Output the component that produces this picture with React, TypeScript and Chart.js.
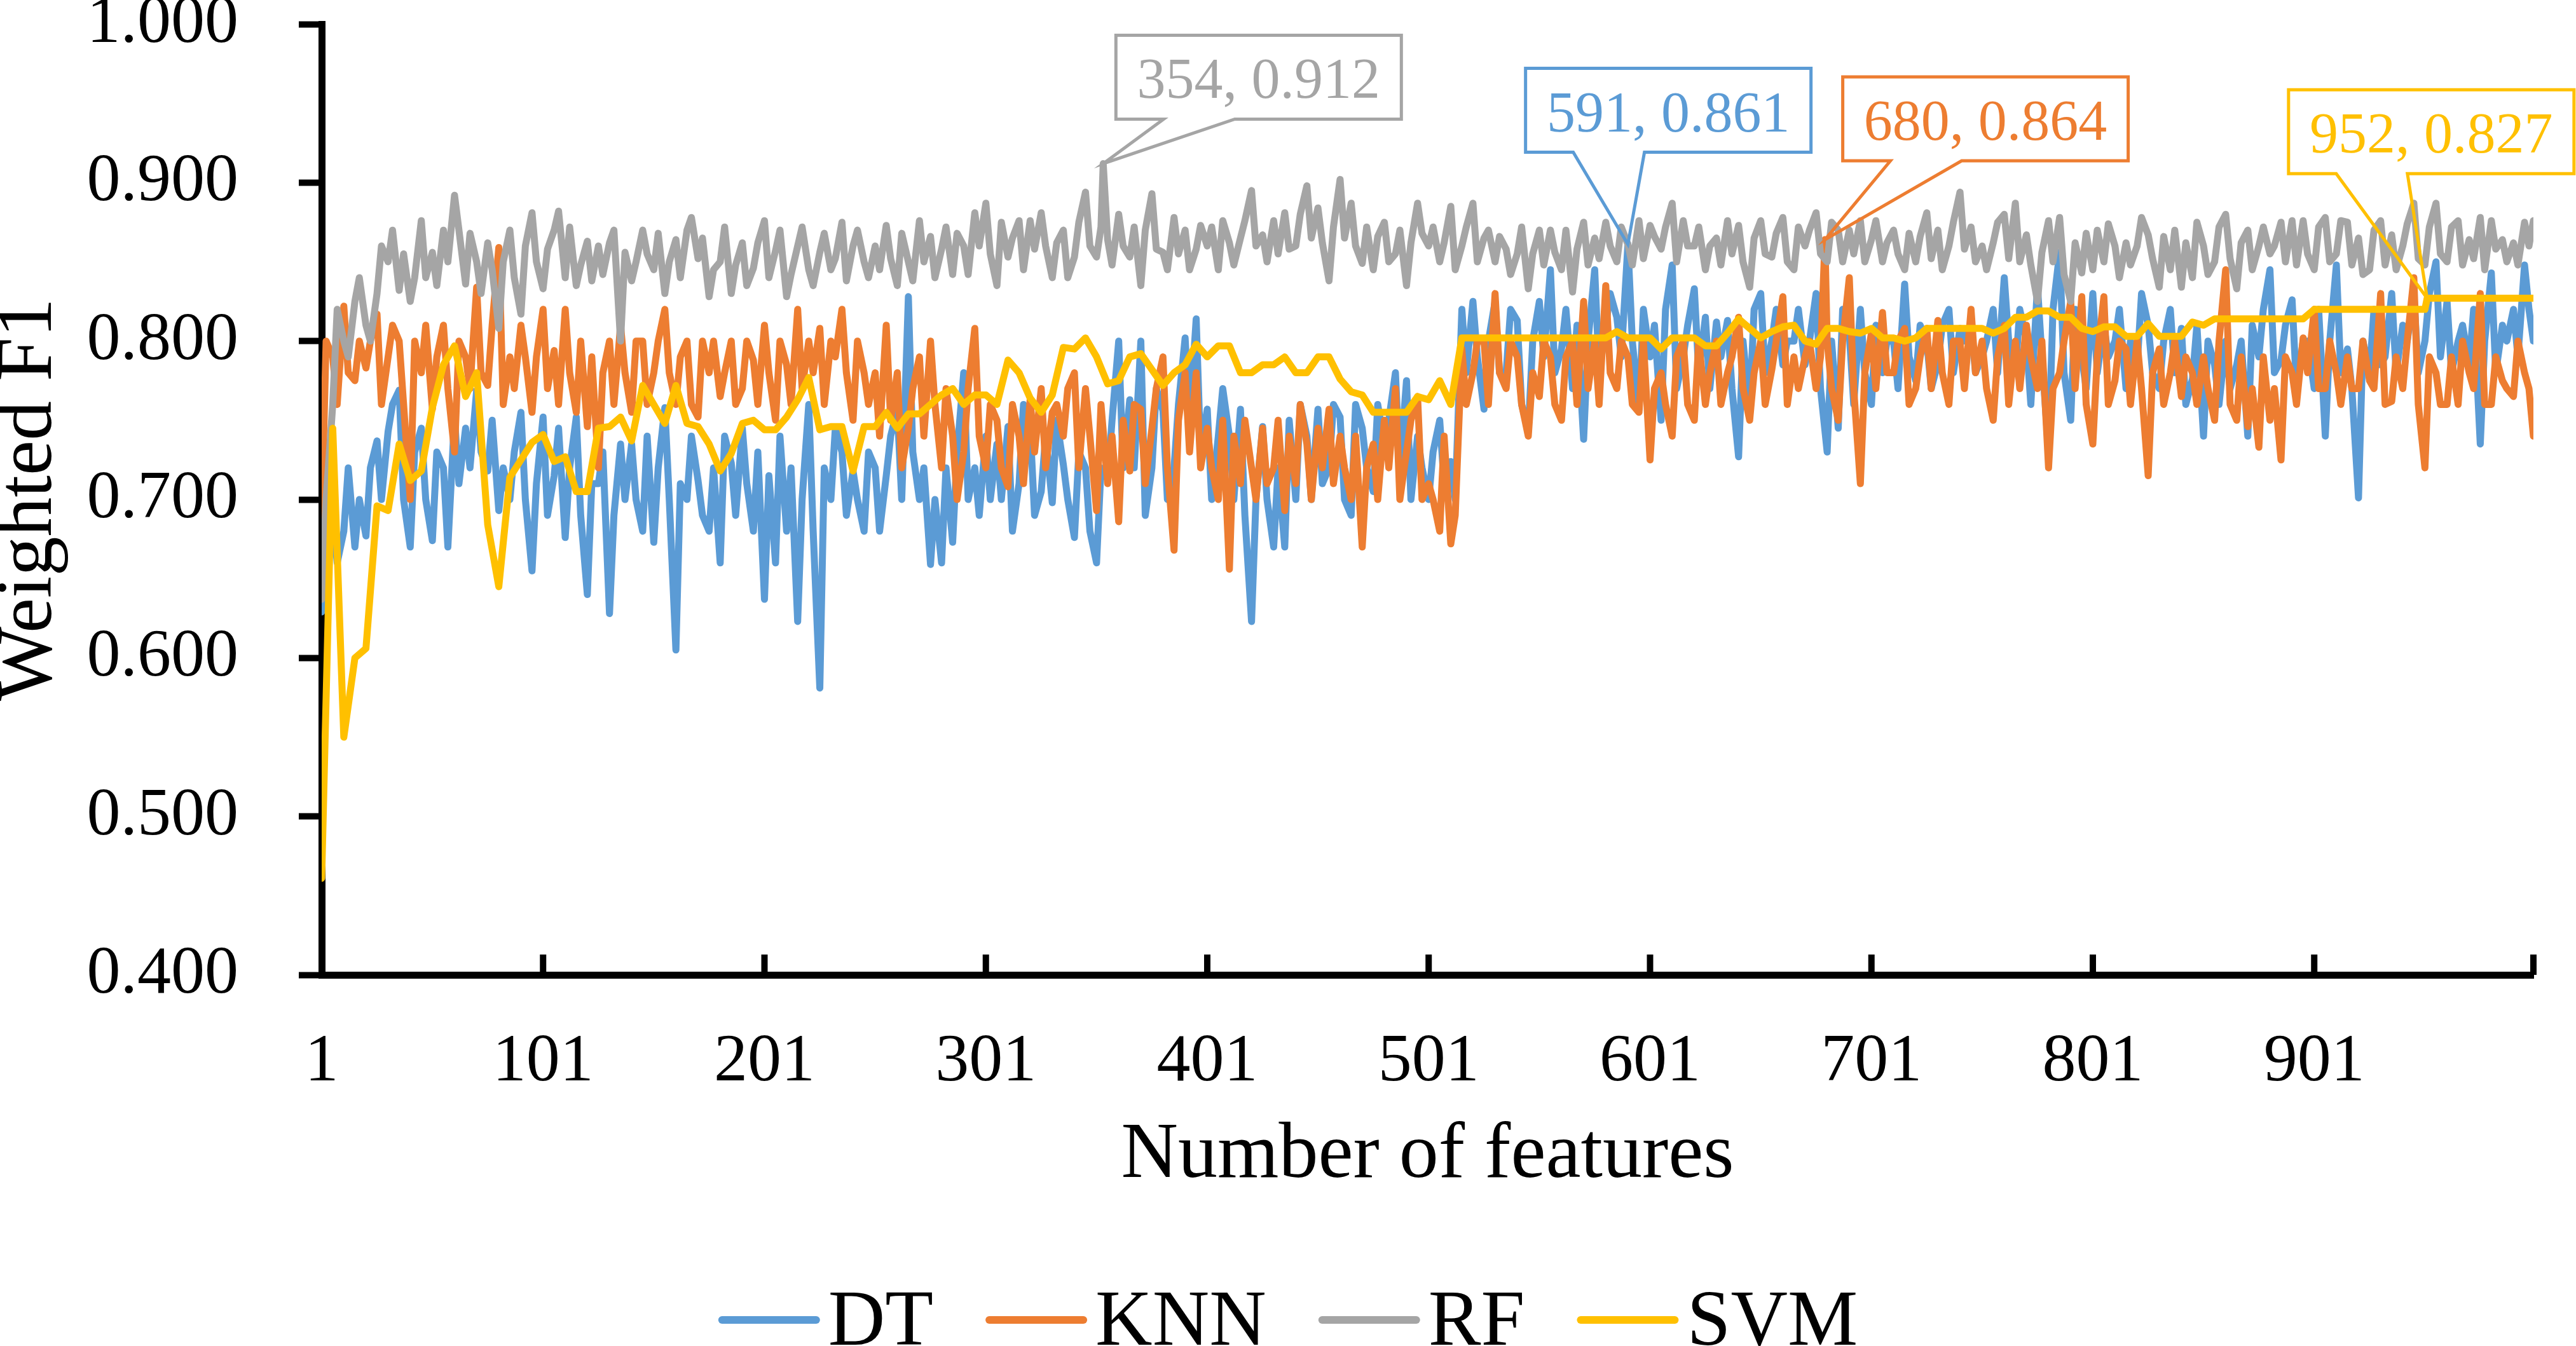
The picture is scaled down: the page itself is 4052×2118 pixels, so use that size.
import { useEffect, useRef } from 'react';
import { Chart, registerables } from 'chart.js';

Chart.register(...registerables);

const W = 4052;
const H = 2118;
const FONT = "'Liberation Serif', 'Times New Roman', serif";

// number of features: main samples every 5th (plus the last), in-between samples at 3, 8, 13, ...
const FEATURES = [...Array.from({ length: 200 }, (_, i) => 1 + 5 * i), 1000];
const MID_FEATURES = Array.from({ length: 200 }, (_, i) => 3 + 5 * i);
const X_TICKS = [1, 101, 201, 301, 401, 501, 601, 701, 801, 901];

const DT = [
  0.629, 0.69, 0.68, 0.67, 0.677, 0.737, 0.743, 0.769, 0.67, 0.745,
  0.674, 0.72, 0.752, 0.745, 0.769, 0.718, 0.693, 0.7, 0.755, 0.655,
  0.752, 0.715, 0.676, 0.752, 0.64, 0.71, 0.628, 0.735, 0.735, 0.68,
  0.673, 0.758, 0.605, 0.7, 0.712, 0.68, 0.66, 0.723, 0.745, 0.68,
  0.637, 0.66, 0.68, 0.623, 0.76, 0.581, 0.7, 0.73, 0.718, 0.68,
  0.72, 0.715, 0.757, 0.828, 0.7, 0.659, 0.66, 0.673, 0.78, 0.72,
  0.74, 0.735, 0.746, 0.71, 0.746, 0.705, 0.698, 0.722, 0.676, 0.72,
  0.66, 0.713, 0.8, 0.763, 0.8, 0.72, 0.756, 0.72, 0.802, 0.814,
  0.757, 0.74, 0.74, 0.757, 0.623, 0.746, 0.67, 0.67, 0.7, 0.74,
  0.757, 0.72, 0.752, 0.69, 0.745, 0.705, 0.735, 0.78, 0.775, 0.74,
  0.7, 0.75, 0.724, 0.82, 0.825, 0.757, 0.825, 0.78, 0.813, 0.743,
  0.825, 0.845, 0.795, 0.77, 0.738, 0.845, 0.81, 0.815, 0.861, 0.757,
  0.79, 0.75, 0.848, 0.79, 0.833, 0.815, 0.812, 0.813, 0.727, 0.757,
  0.83, 0.8, 0.785, 0.8, 0.785, 0.83, 0.73, 0.745, 0.805, 0.82,
  0.76, 0.78, 0.8, 0.836, 0.775, 0.8, 0.786, 0.82, 0.808, 0.81,
  0.79, 0.82, 0.84, 0.78, 0.8, 0.835, 0.73, 0.856, 0.75, 0.79,
  0.83, 0.81, 0.8, 0.77, 0.784, 0.81, 0.77, 0.82, 0.808, 0.776,
  0.74, 0.785, 0.8, 0.785, 0.74, 0.79, 0.845, 0.788, 0.826, 0.8,
  0.77, 0.74, 0.848, 0.795, 0.701, 0.78, 0.785, 0.83, 0.81, 0.83,
  0.8, 0.85, 0.825, 0.8, 0.785, 0.735, 0.843, 0.81, 0.82, 0.848,
  0.8,
];
const DT_MID = [
  0.70, 0.66, 0.72, 0.70, 0.72, 0.70, 0.76, 0.70, 0.73, 0.70,
  0.73, 0.67, 0.71, 0.72, 0.73, 0.75, 0.72, 0.73, 0.70, 0.71,
  0.69, 0.745, 0.72, 0.69, 0.71, 0.73, 0.69, 0.70, 0.70, 0.74,
  0.72, 0.70, 0.71, 0.74, 0.69, 0.72, 0.74, 0.69, 0.71, 0.73,
  0.715, 0.74, 0.72, 0.70, 0.68, 0.72, 0.745, 0.69, 0.70, 0.73,
  0.68, 0.74, 0.70, 0.73, 0.72, 0.70, 0.72, 0.73, 0.70, 0.69,
  0.70, 0.70, 0.68, 0.76, 0.69, 0.74, 0.75, 0.70, 0.73, 0.68,
  0.72, 0.75, 0.72, 0.72, 0.69, 0.77, 0.70, 0.76, 0.75, 0.73,
  0.70, 0.77, 0.70, 0.69, 0.70, 0.70, 0.72, 0.75, 0.76, 0.70,
  0.71, 0.76, 0.70, 0.76, 0.72, 0.76, 0.75, 0.72, 0.70, 0.72,
  0.73, 0.71, 0.70, 0.78, 0.79, 0.80, 0.78, 0.82, 0.76, 0.80,
  0.79, 0.78, 0.82, 0.81, 0.80, 0.78, 0.83, 0.79, 0.80, 0.82,
  0.81, 0.82, 0.77, 0.81, 0.78, 0.77, 0.79, 0.77, 0.80, 0.82,
  0.78, 0.82, 0.80, 0.82, 0.80, 0.77, 0.80, 0.82, 0.76, 0.78,
  0.81, 0.80, 0.77, 0.79, 0.81, 0.77, 0.81, 0.78, 0.80, 0.78,
  0.80, 0.78, 0.80, 0.82, 0.76, 0.79, 0.82, 0.78, 0.82, 0.77,
  0.78, 0.79, 0.82, 0.80, 0.83, 0.78, 0.80, 0.78, 0.76, 0.81,
  0.80, 0.76, 0.77, 0.80, 0.81, 0.82, 0.78, 0.81, 0.77, 0.80,
  0.82, 0.80, 0.78, 0.77, 0.80, 0.82, 0.79, 0.78, 0.80, 0.78,
  0.83, 0.79, 0.78, 0.81, 0.82, 0.80, 0.78, 0.80, 0.79, 0.82,
];

const KNN = [
  0.69, 0.79, 0.822, 0.775, 0.783, 0.817, 0.79, 0.8, 0.7, 0.78,
  0.757, 0.81, 0.73, 0.79, 0.834, 0.772, 0.859, 0.79, 0.81, 0.755,
  0.82, 0.794, 0.82, 0.755, 0.746, 0.72, 0.8, 0.81, 0.755, 0.8,
  0.78, 0.82, 0.76, 0.8, 0.752, 0.78, 0.765, 0.8, 0.77, 0.788,
  0.81, 0.75, 0.785, 0.82, 0.8, 0.808, 0.8, 0.82, 0.75, 0.78,
  0.78, 0.81, 0.78, 0.745, 0.79, 0.8, 0.72, 0.74, 0.73, 0.808,
  0.72, 0.75, 0.708, 0.74, 0.763, 0.77, 0.755, 0.74, 0.78, 0.77,
  0.693, 0.71, 0.686, 0.718, 0.757, 0.745, 0.79, 0.668, 0.78, 0.78,
  0.745, 0.7, 0.656, 0.71, 0.72, 0.745, 0.72, 0.693, 0.71, 0.735,
  0.745, 0.757, 0.74, 0.7, 0.67, 0.735, 0.75, 0.77, 0.73, 0.765,
  0.71, 0.68, 0.672, 0.795, 0.78, 0.8, 0.83, 0.77, 0.79, 0.74,
  0.765, 0.79, 0.75, 0.8, 0.825, 0.8, 0.835, 0.77, 0.79, 0.755,
  0.725, 0.78, 0.74, 0.8, 0.75, 0.76, 0.8, 0.78, 0.815, 0.75,
  0.8, 0.782, 0.828, 0.79, 0.79, 0.77, 0.8, 0.75, 0.84, 0.71,
  0.805, 0.818, 0.78, 0.808, 0.77, 0.808, 0.813, 0.76, 0.8, 0.82,
  0.8, 0.75, 0.81, 0.8, 0.81, 0.77, 0.72, 0.78, 0.825, 0.828,
  0.735, 0.828, 0.775, 0.795, 0.8, 0.715, 0.795, 0.78, 0.765, 0.78,
  0.79, 0.75, 0.845, 0.75, 0.746, 0.733, 0.75, 0.725, 0.78, 0.802,
  0.82, 0.77, 0.78, 0.79, 0.77, 0.775, 0.83, 0.762, 0.77, 0.84,
  0.72, 0.78, 0.76, 0.76, 0.78, 0.83, 0.76, 0.775, 0.765, 0.78,
  0.74,
];
const KNN_MID = [
  0.80, 0.76, 0.78, 0.80, 0.80, 0.76, 0.81, 0.76, 0.80, 0.81,
  0.79, 0.77, 0.80, 0.77, 0.78, 0.81, 0.76, 0.77, 0.79, 0.79,
  0.77, 0.76, 0.78, 0.80, 0.79, 0.78, 0.76, 0.78, 0.80, 0.76,
  0.80, 0.78, 0.79, 0.76, 0.80, 0.80, 0.78, 0.76, 0.80, 0.76,
  0.78, 0.80, 0.76, 0.77, 0.78, 0.76, 0.79, 0.78, 0.80, 0.76,
  0.74, 0.75, 0.72, 0.77, 0.74, 0.76, 0.77, 0.70, 0.77, 0.74,
  0.76, 0.72, 0.76, 0.71, 0.73, 0.72, 0.76, 0.77, 0.72, 0.74,
  0.76, 0.74, 0.75, 0.76, 0.71, 0.77, 0.72, 0.75, 0.73, 0.72,
  0.72, 0.75, 0.74, 0.75, 0.70, 0.71, 0.75, 0.74, 0.76, 0.70,
  0.72, 0.71, 0.72, 0.74, 0.72, 0.70, 0.72, 0.70, 0.75, 0.70,
  0.70, 0.74, 0.69, 0.76, 0.80, 0.76, 0.78, 0.80, 0.76, 0.78,
  0.80, 0.76, 0.79, 0.76, 0.77, 0.76, 0.78, 0.80, 0.76, 0.80,
  0.77, 0.76, 0.79, 0.76, 0.80, 0.78, 0.76, 0.79, 0.77, 0.78,
  0.76, 0.80, 0.76, 0.77, 0.80, 0.79, 0.77, 0.80, 0.77, 0.78,
  0.77, 0.78, 0.80, 0.76, 0.79, 0.77, 0.78, 0.80, 0.77, 0.78,
  0.77, 0.79, 0.76, 0.77, 0.79, 0.80, 0.77, 0.80, 0.77, 0.76,
  0.79, 0.76, 0.80, 0.76, 0.77, 0.78, 0.76, 0.80, 0.79, 0.76,
  0.77, 0.80, 0.76, 0.79, 0.77, 0.79, 0.77, 0.79, 0.76, 0.78,
  0.77, 0.80, 0.76, 0.77, 0.80, 0.77, 0.76, 0.79, 0.80, 0.76,
  0.79, 0.76, 0.79, 0.80, 0.77, 0.76, 0.79, 0.77, 0.80, 0.77,
];

const RF = [
  0.637, 0.76, 0.8, 0.825, 0.81, 0.83, 0.85, 0.832, 0.825, 0.876,
  0.856, 0.87, 0.892, 0.836, 0.85, 0.862, 0.808, 0.87, 0.817, 0.881,
  0.833, 0.87, 0.84, 0.835, 0.863, 0.86, 0.862, 0.8, 0.838, 0.87,
  0.845, 0.83, 0.864, 0.87, 0.852, 0.828, 0.85, 0.83, 0.862, 0.846,
  0.876, 0.857, 0.828, 0.86, 0.845, 0.856, 0.845, 0.875, 0.86, 0.85,
  0.86, 0.873, 0.835, 0.85, 0.876, 0.866, 0.858, 0.842, 0.86, 0.881,
  0.887, 0.835, 0.853, 0.876, 0.876, 0.881, 0.84, 0.87, 0.853, 0.894,
  0.853, 0.864, 0.88, 0.853, 0.835, 0.893, 0.856, 0.878, 0.87, 0.858,
  0.86, 0.845, 0.862, 0.865, 0.895, 0.867, 0.876, 0.881, 0.86, 0.898,
  0.884, 0.838, 0.902, 0.887, 0.849, 0.845, 0.875, 0.855, 0.835, 0.887,
  0.86, 0.85, 0.885, 0.86, 0.887, 0.865, 0.85, 0.858, 0.855, 0.833,
  0.87, 0.87, 0.845, 0.831, 0.875, 0.865, 0.875, 0.85, 0.861, 0.876,
  0.873, 0.858, 0.887, 0.876, 0.86, 0.845, 0.865, 0.876, 0.873, 0.834,
  0.876, 0.853, 0.878, 0.845, 0.86, 0.881, 0.85, 0.87, 0.87, 0.876,
  0.864, 0.85, 0.87, 0.845, 0.85, 0.881, 0.87, 0.86, 0.894, 0.872,
  0.86, 0.862, 0.88, 0.887, 0.867, 0.825, 0.876, 0.878, 0.825, 0.843,
  0.845, 0.85, 0.86, 0.862, 0.86, 0.867, 0.834, 0.845, 0.834, 0.84,
  0.86, 0.85, 0.88, 0.833, 0.87, 0.86, 0.855, 0.875, 0.876, 0.876,
  0.845, 0.878, 0.855, 0.875, 0.865, 0.845, 0.876, 0.867, 0.86, 0.887,
  0.848, 0.887, 0.85, 0.876, 0.864, 0.878, 0.876, 0.864, 0.862, 0.875,
  0.876,
];
const RF_MID = [
  0.70, 0.82, 0.79, 0.84, 0.80, 0.86, 0.87, 0.855, 0.84, 0.84,
  0.835, 0.85, 0.87, 0.868, 0.83, 0.845, 0.85, 0.84, 0.86, 0.85,
  0.858, 0.882, 0.872, 0.848, 0.838, 0.842, 0.87, 0.856, 0.85, 0.855,
  0.868, 0.85, 0.84, 0.878, 0.865, 0.845, 0.872, 0.848, 0.835, 0.862,
  0.84, 0.87, 0.842, 0.872, 0.835, 0.868, 0.852, 0.838, 0.87, 0.84,
  0.845, 0.852, 0.868, 0.838, 0.85, 0.84, 0.872, 0.868, 0.842, 0.86,
  0.855, 0.875, 0.865, 0.845, 0.858, 0.86, 0.862, 0.84, 0.875, 0.86,
  0.872, 0.848, 0.86, 0.872, 0.87, 0.858, 0.845, 0.855, 0.845, 0.873,
  0.872, 0.876, 0.848, 0.876, 0.86, 0.85, 0.855, 0.858, 0.88, 0.865,
  0.862, 0.872, 0.865, 0.86, 0.872, 0.866, 0.85, 0.87, 0.862, 0.868,
  0.872, 0.862, 0.845, 0.872, 0.85, 0.87, 0.866, 0.842, 0.872, 0.855,
  0.848, 0.856, 0.87, 0.858, 0.848, 0.852, 0.86, 0.872, 0.848, 0.852,
  0.866, 0.872, 0.85, 0.86, 0.872, 0.86, 0.848, 0.855, 0.85, 0.865,
  0.855, 0.868, 0.85, 0.872, 0.87, 0.855, 0.875, 0.85, 0.855, 0.85,
  0.876, 0.862, 0.855, 0.868, 0.866, 0.852, 0.845, 0.875, 0.858, 0.85,
  0.845, 0.875, 0.852, 0.85, 0.848, 0.856, 0.85, 0.842, 0.862, 0.868,
  0.87, 0.874, 0.84, 0.848, 0.878, 0.852, 0.866, 0.87, 0.862, 0.875,
  0.842, 0.872, 0.852, 0.862, 0.845, 0.872, 0.86, 0.85, 0.848, 0.855,
  0.872, 0.85, 0.876, 0.848, 0.842, 0.87, 0.848, 0.845, 0.874, 0.852,
  0.872, 0.855, 0.872, 0.848, 0.852, 0.845, 0.858, 0.85, 0.848, 0.86,
];

const SVM = [
  0.461, 0.745, 0.55, 0.6, 0.606, 0.696, 0.693, 0.735, 0.712, 0.718,
  0.758, 0.785, 0.797, 0.765, 0.78, 0.684, 0.645, 0.714, 0.725, 0.736,
  0.741, 0.724, 0.727, 0.705, 0.705, 0.745, 0.746, 0.752, 0.737, 0.772,
  0.76, 0.748, 0.772, 0.748, 0.746, 0.735, 0.718, 0.729, 0.748, 0.75,
  0.744, 0.744, 0.752, 0.763, 0.777, 0.744, 0.746, 0.746, 0.718, 0.746,
  0.746, 0.755, 0.745, 0.754, 0.754, 0.76, 0.766, 0.77, 0.76, 0.766,
  0.766, 0.76, 0.788, 0.78, 0.764, 0.755, 0.766, 0.796, 0.795, 0.802,
  0.79, 0.773, 0.775, 0.79, 0.792, 0.782, 0.772, 0.78, 0.785, 0.798,
  0.79, 0.797, 0.797, 0.78, 0.78, 0.785, 0.785, 0.79, 0.78, 0.78,
  0.79, 0.79, 0.776, 0.768, 0.766, 0.755, 0.755, 0.755, 0.755, 0.765,
  0.763, 0.775, 0.76, 0.802, 0.802, 0.802, 0.802, 0.802, 0.802, 0.802,
  0.802, 0.802, 0.802, 0.802, 0.802, 0.802, 0.802, 0.806, 0.802, 0.802,
  0.802, 0.795, 0.802, 0.802, 0.802, 0.797, 0.797, 0.805, 0.814, 0.808,
  0.802, 0.806, 0.809, 0.81, 0.8, 0.798, 0.808, 0.808, 0.806, 0.805,
  0.808, 0.802, 0.802, 0.8, 0.802, 0.808, 0.808, 0.808, 0.808, 0.808,
  0.808, 0.805, 0.808, 0.815, 0.815, 0.819, 0.819, 0.815, 0.815, 0.808,
  0.806, 0.809, 0.809, 0.803, 0.803, 0.811, 0.803, 0.803, 0.803, 0.812,
  0.81, 0.814, 0.814, 0.814, 0.814, 0.814, 0.814, 0.814, 0.814, 0.814,
  0.82, 0.82, 0.82, 0.82, 0.82, 0.82, 0.82, 0.82, 0.82, 0.82,
  0.82, 0.827, 0.827, 0.827, 0.827, 0.827, 0.827, 0.827, 0.827, 0.827,
  0.827,
];

// labelled best points
const CALLOUTS = [
  { series: 'RF', x: 354, y: 0.912 },
  { series: 'DT', x: 591, y: 0.861 },
  { series: 'KNN', x: 680, y: 0.864 },
  { series: 'SVM', x: 952, y: 0.827 },
];

const SERIES = [
  { label: 'DT', values: DT, mids: DT_MID, color: '#5B9BD5' },
  { label: 'KNN', values: KNN, mids: KNN_MID, color: '#ED7D31' },
  { label: 'RF', values: RF, mids: RF_MID, color: '#A5A5A5' },
  { label: 'SVM', values: SVM, mids: [] as number[], color: '#FFC000' },
];

// callout box placement relative to the labelled point (px)
const BOX_W = 449;
const BOX_H = 132;
const BOX_POS: Record<string, { dx: number; dy: number }> = {
  RF: { dx: 20, dy: -70 },
  DT: { dx: -161, dy: -145 },
  KNN: { dx: 28, dy: -124 },
  SVM: { dx: -218, dy: -196 },
};

function seriesPoints(name: string, values: number[], mids: number[]) {
  const pts = FEATURES.map((x, i) => ({ x, y: values[i] }));
  mids.forEach((y, i) => pts.push({ x: MID_FEATURES[i], y }));
  pts.sort((a, b) => a.x - b.x);
  CALLOUTS.filter((c) => c.series === name).forEach((c) => {
    const k = pts.findIndex((p) => p.x >= c.x);
    if (pts[k].x === c.x) pts[k].y = c.y;
    else pts.splice(k, 0, { x: c.x, y: c.y });
  });
  return pts;
}

const xTickMarks = {
  id: 'xTickMarks',
  afterDraw(chart: any) {
    const { ctx, chartArea } = chart;
    const x = chart.scales.x;
    ctx.save();
    ctx.strokeStyle = '#000';
    ctx.lineWidth = 10;
    [...X_TICKS, 1000].forEach((v) => {
      const px = x.getPixelForValue(v);
      ctx.beginPath();
      ctx.moveTo(px, chartArea.bottom);
      ctx.lineTo(px, chartArea.bottom - 32);
      ctx.stroke();
    });
    ctx.restore();
  },
};

const callouts = {
  id: 'callouts',
  afterDatasetsDraw(chart: any) {
    const { ctx } = chart;
    const { x, y } = chart.scales;
    CALLOUTS.forEach((c) => {
      const s = SERIES.find((d) => d.label === c.series)!;
      const pos = BOX_POS[c.series];
      const ax = x.getPixelForValue(c.x);
      const ay = y.getPixelForValue(c.y);
      const left = ax + pos.dx;
      const bottom = ay + pos.dy;
      const top = bottom - BOX_H;
      const right = left + BOX_W;
      ctx.save();
      ctx.beginPath();
      ctx.moveTo(left, top);
      ctx.lineTo(right, top);
      ctx.lineTo(right, bottom);
      ctx.lineTo(left + 187, bottom);
      ctx.lineTo(ax, ay);
      ctx.lineTo(left + 75, bottom);
      ctx.lineTo(left, bottom);
      ctx.closePath();
      ctx.lineWidth = 5;
      ctx.lineJoin = 'miter';
      ctx.strokeStyle = s.color;
      ctx.stroke();
      ctx.font = `90px ${FONT}`;
      ctx.fillStyle = s.color;
      ctx.textAlign = 'center';
      ctx.textBaseline = 'alphabetic';
      ctx.fillText(`${c.x}, ${c.y.toFixed(3)}`, (left + right) / 2, top + 99);
      ctx.restore();
    });
  },
};

const lineLegend = {
  id: 'lineLegend',
  afterDraw(chart: any) {
    const { ctx, width } = chart;
    const LINE = 160;
    const GAP = 13;
    const ITEM_GAP = 82;
    ctx.save();
    ctx.font = `124px ${FONT}`;
    const items = SERIES.map((s) => ({ ...s, w: ctx.measureText(s.label).width }));
    const total = items.reduce((a, it) => a + LINE + GAP + it.w, 0) + ITEM_GAP * (items.length - 1);
    let cx = (width - total) / 2;
    items.forEach((it) => {
      ctx.strokeStyle = it.color;
      ctx.lineWidth = 12;
      ctx.lineCap = 'round';
      ctx.beginPath();
      ctx.moveTo(cx + 6, 2077);
      ctx.lineTo(cx + LINE - 6, 2077);
      ctx.stroke();
      ctx.fillStyle = '#000';
      ctx.textBaseline = 'alphabetic';
      ctx.fillText(it.label, cx + LINE + GAP, 2116);
      cx += LINE + GAP + it.w + ITEM_GAP;
    });
    ctx.restore();
  },
};

export default function App() {
  const canvasRef = useRef<HTMLCanvasElement | null>(null);
  const chartRef = useRef<Chart | null>(null);

  useEffect(() => {
    if (!canvasRef.current) return;
    if (chartRef.current) chartRef.current.destroy();

    Chart.defaults.font.family = FONT;
    Chart.defaults.color = '#000';

    const order: Record<string, number> = { DT: 4, KNN: 3, RF: 2, SVM: 1 };

    chartRef.current = new Chart(canvasRef.current, {
      type: 'line',
      data: {
        datasets: SERIES.map((s) => ({
          label: s.label,
          data: seriesPoints(s.label, s.values, s.mids),
          borderColor: s.color,
          backgroundColor: s.color,
          borderWidth: 11,
          pointRadius: 0,
          tension: 0,
          borderJoinStyle: 'round' as const,
          borderCapStyle: 'round' as const,
          order: order[s.label],
        })),
      },
      options: {
        animation: false,
        responsive: true,
        maintainAspectRatio: false,
        devicePixelRatio: 1,
        layout: { padding: { top: 38, right: 67, bottom: 218, left: 0 } },
        scales: {
          x: {
            type: 'linear',
            min: 1,
            max: 1000,
            afterBuildTicks: (scale: any) => {
              scale.ticks = X_TICKS.map((v) => ({ value: v }));
            },
            afterFit: (scale: any) => {
              scale.height = 366;
              scale.paddingLeft = 0;
              scale.paddingRight = 0;
            },
            grid: { display: false },
            border: { display: true, color: '#000', width: 11 },
            ticks: {
              autoSkip: false,
              maxRotation: 0,
              padding: 67,
              font: { size: 106 },
              color: '#000',
              callback: (v: any) => String(v),
            },
            title: {
              display: true,
              text: 'Number of features',
              color: '#000',
              font: { size: 124 },
              padding: { top: 0, bottom: 6 },
            },
          },
          y: {
            min: 0.4,
            max: 1.0,
            afterFit: (scale: any) => {
              scale.width = 506;
              scale.paddingTop = 0;
              scale.paddingBottom = 0;
            },
            grid: {
              display: true,
              drawOnChartArea: false,
              drawTicks: true,
              tickLength: 36,
              tickWidth: 10,
              tickColor: '#000',
            },
            border: { display: true, color: '#000', width: 11 },
            ticks: {
              stepSize: 0.1,
              padding: 95,
              font: { size: 106 },
              color: '#000',
              callback: (v: any) => Number(v).toFixed(3),
            },
            title: {
              display: true,
              text: 'Weighted F1',
              color: '#000',
              font: { size: 124, lineHeight: 0.76 },
              padding: { top: 0, bottom: 0 },
            },
          },
        },
        plugins: {
          legend: { display: false },
          tooltip: { enabled: false },
        },
      },
      plugins: [xTickMarks, callouts, lineLegend],
    });

    return () => {
      if (chartRef.current) {
        chartRef.current.destroy();
        chartRef.current = null;
      }
    };
  }, []);

  return (
    <div style={{ position: 'absolute', left: 0, top: 0, width: W, height: H, background: '#fff' }}>
      <canvas ref={canvasRef} aria-label="Weighted F1 by number of features" />
    </div>
  );
}
